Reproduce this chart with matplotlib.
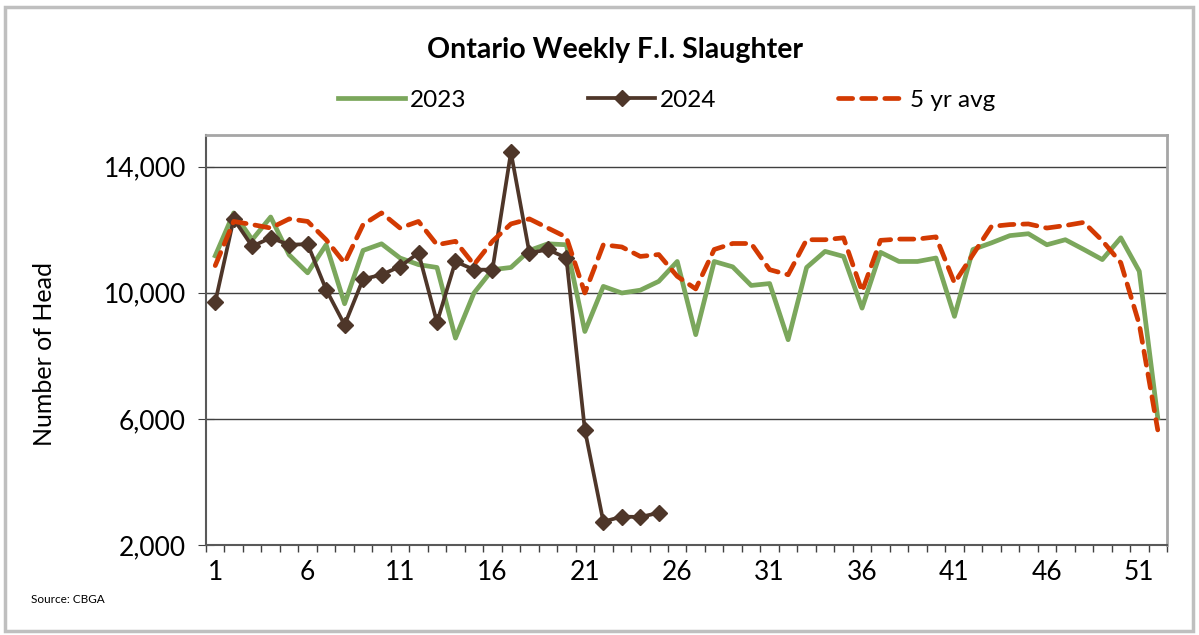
import numpy as np
import matplotlib.pyplot as plt
from matplotlib.patches import Rectangle

plt.rcParams['font.family'] = ['Lato', 'DejaVu Sans']

weeks = np.arange(1, 53)
# weekly federally inspected slaughter, head
w2023 = [11170, 12530, 11680, 12400, 11200, 10630, 11520, 9650, 11340, 11550,
         11100, 10890, 10800, 8560, 9990, 10730, 10800, 11340, 11550, 11520,
         8770, 10200, 9990, 10080, 10360, 10990, 8670, 10990, 10820, 10230,
         10290, 8510, 10800, 11310, 11150, 9510, 11280, 10990, 10990, 11100,
         9250, 11370, 11580, 11810, 11870, 11520, 11680, 11370, 11050, 11740,
         10680, 6030]
w2024 = [9700, 12340, 11470, 11740, 11520, 11540, 10100, 8980, 10430, 10570,
         10830, 11260, 9060, 10990, 10730, 10730, 14450, 11260, 11370, 11100,
         5650, 2740, 2900, 2890, 3020]
avg5 = [10860, 12260, 12160, 12050, 12340, 12260, 11680, 10940, 12160, 12530,
        12050, 12260, 11520, 11630, 10890, 11630, 12180, 12340, 12050, 11760,
        9990, 11520, 11450, 11150, 11210, 10520, 10120, 11370, 11560, 11560,
        10730, 10570, 11680, 11680, 11740, 10040, 11660, 11700, 11700, 11770,
        10310, 11210, 12100, 12160, 12180, 12050, 12130, 12230, 11650, 10950,
        9000, 5650]
xlabels = [str(w) for w in range(1, 53, 5)]

fig = plt.figure(figsize=(11.99, 6.35), dpi=100)
ax = fig.add_axes([0.1718, 0.1417, 0.8015, 0.6457])

ax.plot(weeks, w2023, color='#7BA75C', lw=3.4, label='2023', zorder=3)
ax.plot(weeks[:len(w2024)], w2024, color='#4E3629', lw=2.7, marker='D',
        markersize=8, label='2024', zorder=4)
ax.plot(weeks, avg5, color='#D33A02', lw=3.4, ls=(0, (3.0, 1.9)),
        dash_capstyle='round', label='5 yr avg', zorder=5)

ax.set_xlim(0.5, 52.5)
ax.set_ylim(2000, 15000)
ax.set_yticks([2000, 6000, 10000, 14000])
ax.set_yticklabels(['2,000', '6,000', '10,000', '14,000'])
ax.set_xticks(range(1, 53, 5))
ax.set_xticklabels(xlabels)
ax.set_xticks(np.arange(0.5, 53, 1), minor=True)
ax.tick_params(axis='x', which='major', length=0, pad=11, labelsize=19)
ax.tick_params(axis='x', which='minor', length=5, direction='out',
               color='#404040', width=1)
ax.tick_params(axis='y', length=11, direction='inout', color='#404040',
               labelsize=19, pad=9)
ax.grid(axis='y', color='#404040', lw=1)
ax.set_axisbelow(True)

for s in ['top', 'right']:
    ax.spines[s].set_color('#A6A6A6')
    ax.spines[s].set_linewidth(2)
for s in ['left', 'bottom']:
    ax.spines[s].set_color('#595959')
    ax.spines[s].set_linewidth(1.5)

fig.text(0.0375, 0.4425, 'Number of Head', rotation=90, ha='center',
         va='center', fontsize=18)
fig.text(0.513, 0.921, 'Ontario Weekly F.I. Slaughter', ha='center',
         va='center', fontsize=20.5, fontweight='bold')
fig.legend(loc='center', bbox_to_anchor=(0.556, 0.842), ncol=3, frameon=False,
           fontsize=17.5, handlelength=2.75, columnspacing=5.0,
           handletextpad=0.2)
fig.text(0.026, 0.05, 'Source: CBGA', fontsize=8.5)

fig.add_artist(Rectangle((0.004, 0.006), 0.991, 0.983, transform=fig.transFigure,
                         fill=False, edgecolor='#BFBFBF', lw=2.5))

fig.savefig('out.png', dpi=100)
